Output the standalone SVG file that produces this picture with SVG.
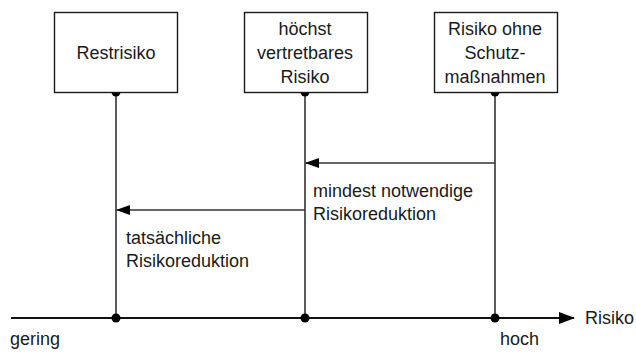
<svg xmlns="http://www.w3.org/2000/svg" width="636" height="356" viewBox="0 0 636 356">
  <style>
    text { font-family: "Liberation Sans", Arimo, sans-serif; font-size: 18px; fill: #1a1a1a; }
    .c { text-anchor: middle; }
    .box { fill: #ffffff; stroke: #1a1a1a; stroke-width: 1.4; }
    .stem { stroke: #333333; stroke-width: 1.6; fill: none; }
    .axis { stroke: #111111; stroke-width: 2.2; fill: none; }
    .arrow { stroke: #333333; stroke-width: 1.6; fill: none; marker-end: url(#head); }
    .dot { fill: #000000; }
  </style>
  <defs>
    <marker id="head" viewBox="0 0 14 10" refX="13" refY="5" markerWidth="14" markerHeight="10" markerUnits="userSpaceOnUse" orient="auto">
      <path d="M0,0 L14,5 L0,10 Z" fill="#000000"/>
    </marker>
    <marker id="axhead" viewBox="0 0 16 12" refX="15" refY="6" markerWidth="16" markerHeight="12" markerUnits="userSpaceOnUse" orient="auto">
      <path d="M0,0 L16,6 L0,12 Z" fill="#000000"/>
    </marker>
  </defs>

  <rect width="636" height="356" fill="#ffffff"/>

  <!-- connectors: stems, risk-reduction arrows and the risk axis -->
  <g id="connectors">
    <line class="stem" x1="116" y1="92" x2="116" y2="318"/>
    <line class="stem" x1="305" y1="92" x2="305" y2="318"/>
    <line class="stem" x1="495" y1="92" x2="495" y2="318"/>
    <line class="arrow" x1="495" y1="163" x2="306" y2="163"/>
    <line class="arrow" x1="305" y1="210" x2="117" y2="210"/>
    <line class="axis" x1="11" y1="318" x2="574" y2="318" marker-end="url(#axhead)"/>
    <circle class="dot" cx="116" cy="92" r="4.5"/>
    <circle class="dot" cx="305" cy="92" r="4.5"/>
    <circle class="dot" cx="495" cy="92" r="4.5"/>
    <circle class="dot" cx="116" cy="318" r="4.5"/>
    <circle class="dot" cx="305" cy="318" r="4.5"/>
    <circle class="dot" cx="495" cy="318" r="4.5"/>
  </g>

  <g id="restrisiko">
    <rect class="box" x="54.5" y="12.5" width="123" height="80"/>
    <text class="c" x="116" y="59">Restrisiko</text>
  </g>

  <g id="hoechst-vertretbar">
    <rect class="box" x="244.5" y="12.5" width="123" height="80"/>
    <text class="c" x="305" y="35">höchst</text>
    <text class="c" x="305" y="59">vertretbares</text>
    <text class="c" x="305" y="83">Risiko</text>
  </g>

  <g id="ohne-schutz">
    <rect class="box" x="434.5" y="12.5" width="123" height="80"/>
    <text class="c" x="495" y="35">Risiko ohne</text>
    <text class="c" x="495" y="59">Schutz-</text>
    <text class="c" x="495" y="83">maßnahmen</text>
  </g>

  <g id="labels">
    <text x="313" y="197">mindest notwendige</text>
    <text x="313" y="220">Risikoreduktion</text>
    <text x="126" y="244">tatsächliche</text>
    <text x="126" y="267">Risikoreduktion</text>
    <text x="585" y="324">Risiko</text>
    <text x="10" y="345">gering</text>
    <text x="500" y="345">hoch</text>
  </g>
</svg>
